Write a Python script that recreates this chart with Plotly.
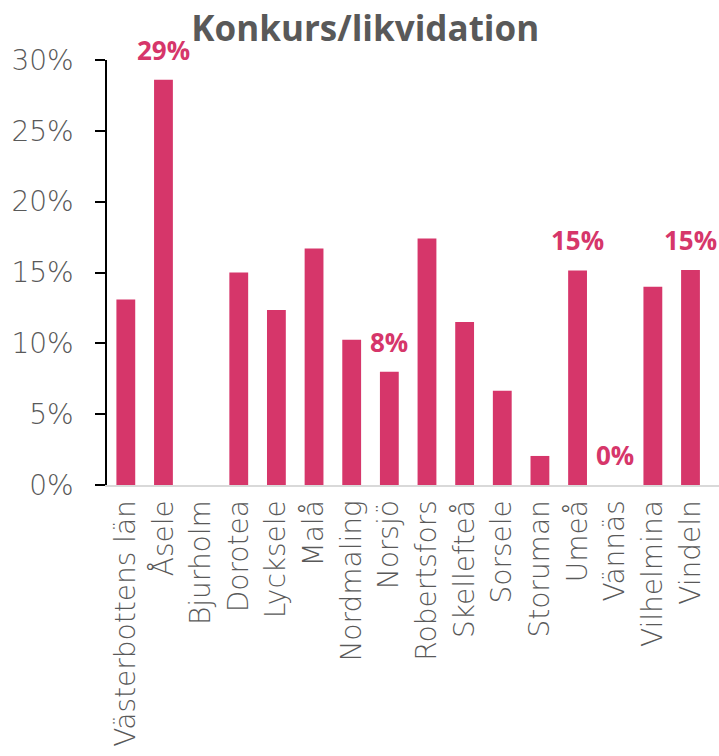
import plotly.graph_objects as go

categories = ["Västerbottens län", "Åsele", "Bjurholm", "Dorotea", "Lycksele", "Malå",
              "Nordmaling", "Norsjö", "Robertsfors", "Skellefteå", "Sorsele", "Storuman",
              "Umeå", "Vännäs", "Vilhelmina", "Vindeln"]
values = [0.131, 0.286, 0.0, 0.150, 0.1235, 0.167, 0.1026, 0.080, 0.174, 0.115,
          0.0666, 0.0205, 0.1515, 0.0, 0.140, 0.1517]
label_cats = ["Åsele", "Norsjö", "Umeå", "Vännäs", "Vindeln"]
label_texts = ["29%", "8%", "15%", "0%", "15%"]

bar_color = "#D6366A"
gray = "#595959"

fig = go.Figure(go.Bar(x=categories, y=values, marker_color=bar_color,
                       marker_line_width=0, width=0.5))

for c, t in zip(label_cats, label_texts):
    v = values[categories.index(c)]
    fig.add_annotation(x=c, y=v, text=f"<b>{t}</b>", showarrow=False,
                       yshift=30, yanchor="middle",
                       font=dict(family="Open Sans", size=26, color=bar_color))

fig.update_layout(
    width=719, height=756,
    margin=dict(l=107, r=0, t=60, b=271),
    paper_bgcolor="white", plot_bgcolor="white",
    showlegend=False,
    title=dict(text="<b>Konkurs/likvidation</b>", x=0.508, xanchor="center", y=0.962, yanchor="middle",
               font=dict(family="Open Sans", size=35, color=gray)),
    yaxis=dict(range=[0, 0.30], dtick=0.05, tickformat=".0%", showgrid=False,
               showline=True, linecolor="black", linewidth=1.5, ticks="outside",
               ticklen=10, tickcolor="black", tickwidth=1.5, zeroline=False,
               ticklabelstandoff=16,
               tickfont=dict(family="DejaVu Sans", size=28, color=gray, weight=200)),
    xaxis=dict(showline=True, linecolor="#D9D9D9", linewidth=2, ticks="", tickangle=-90,
               showgrid=False, ticklabelstandoff=2,
               tickfont=dict(family="DejaVu Sans", size=28, color=gray, weight=200)),
)

fig.write_html("out.html", config={"displayModeBar": False},
               post_script="document.body.style.margin='0';")
